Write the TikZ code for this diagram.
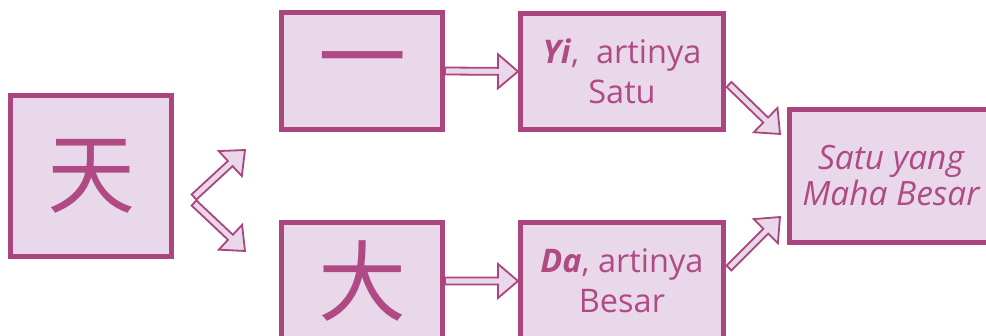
\documentclass[tikz,border=0pt]{standalone}
\usepackage{fontspec}
\setmainfont{Open Sans}
\newfontfamily\cjk{Noto Sans CJK SC}
\usetikzlibrary{calc}
\definecolor{pborder}{RGB}{170,69,125}
\definecolor{pfill}{RGB}{232,216,234}
\definecolor{ptext}{RGB}{176,74,133}
\tikzset{
  box/.style={draw=pborder, fill=pfill, line width=5pt, inner sep=0pt, text=ptext, align=center},
  cjkbox/.style={box, font=\cjk\fontsize{88}{88}\selectfont},
  txtbox/.style={box, font=\fontsize{32.5}{40}\selectfont},
  fatarrow/.style={draw=pborder, fill=pfill, line width=1.8pt, line join=miter,
    to path={let \p1=(\tikztostart), \p2=(\tikztotarget),
      \n1={atan2(\y2-\y1,\x2-\x1)}, \n2={veclen(\x2-\x1,\y2-\y1)} in
      [shift={(\p1)}, rotate=\n1]
      (0pt,-3.5pt) -- ({\n2*1pt-20pt},-3.5pt) -- ({\n2*1pt-20pt},-17pt) -- ({\n2*1pt},0pt)
      -- ({\n2*1pt-20pt},17pt) -- ({\n2*1pt-20pt},3.5pt) -- (0pt,3.5pt) -- cycle}}
}
\begin{document}
\begin{tikzpicture}[x=1pt,y=-1pt]
\useasboundingbox (0,0) rectangle (986,336);
\fill[white] (0,0) rectangle (986,336);
\clip (0,0) rectangle (986,336);
\node[cjkbox, minimum width=161pt, minimum height=161pt] (tian) at (91,176) {天};
\node[cjkbox, minimum width=161pt, minimum height=117pt] (yi) at (362,71) {一};
\node[txtbox, minimum width=203pt, minimum height=116pt] (yit) at (622,71.5) {\textbf{\textit{Yi}},\ \ artinya\\Satu};
\node[cjkbox, minimum width=161pt, minimum height=117pt] (da) at (362,281) {大};
\node[txtbox, minimum width=203pt, minimum height=116pt] (dat) at (622,281) {\textbf{\textit{Da}}, artinya\\Besar};
\node[txtbox, font=\itshape\fontsize{33.5}{36}\selectfont, minimum width=203pt, minimum height=133pt] (res) at (891,176) {Satu yang\\Maha Besar};
\coordinate (forkA) at (194,197);
\coordinate (forkB) at (194,203);
\coordinate (up) at (245,150);
\coordinate (dn) at (245,251);
\draw[fatarrow] (forkB) to (dn);
\draw[fatarrow] (forkA) to (up);
\draw[fatarrow] (yi.east) to (yit.west);
\draw[fatarrow] (da.east) to (dat.west);
\draw[fatarrow] ([shift={(3,13)}]yit.east) to ([shift={(-7,27)}]res.north west);
\draw[fatarrow] ([shift={(3,-13)}]dat.east) to ([shift={(-7,-28)}]res.south west);
\end{tikzpicture}
\end{document}
